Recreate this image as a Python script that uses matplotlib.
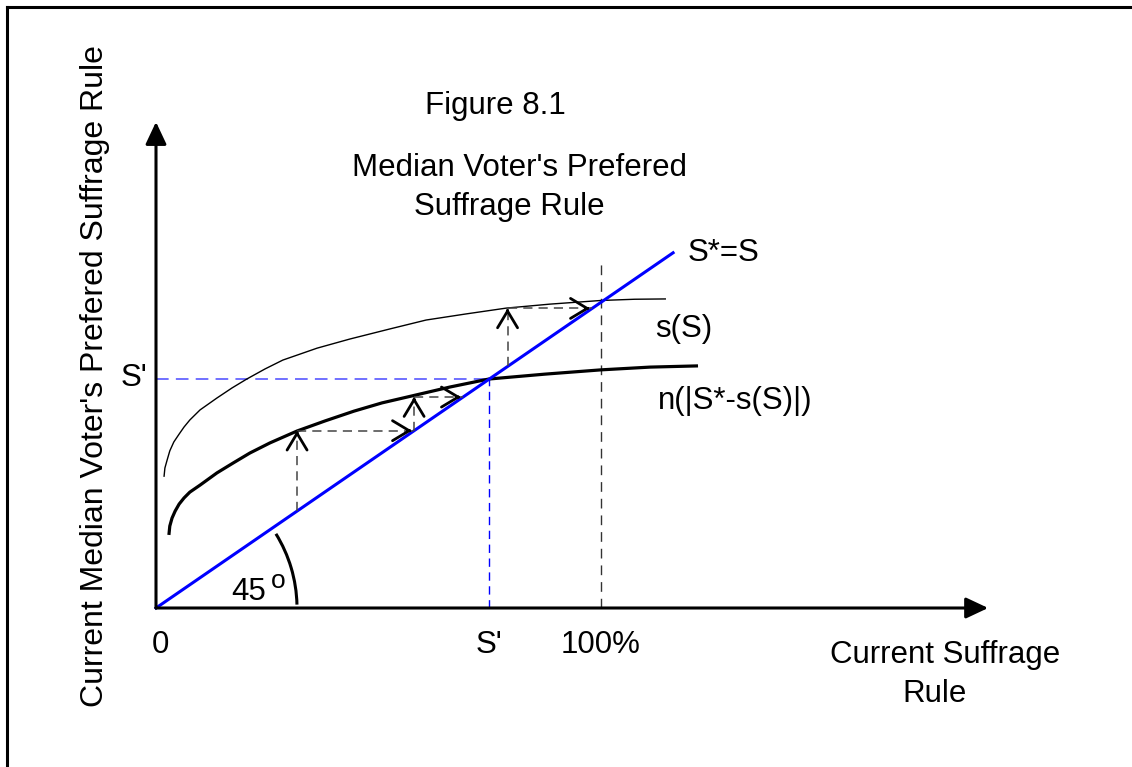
import numpy as np
import matplotlib
matplotlib.use("Agg")
import matplotlib.pyplot as plt
from matplotlib.patches import Arc
from matplotlib.lines import Line2D

plt.rcParams['font.family'] = ['Liberation Sans', 'DejaVu Sans']

# ------------------------------------------------------------------
# values (S as a share, 1.0 = 100%)
# ------------------------------------------------------------------
# thin curve s(S)
s_x = [0.018, 0.020, 0.025, 0.031, 0.040, 0.052, 0.063, 0.076, 0.099, 0.137, 0.171, 0.204,
       0.245, 0.285, 0.362, 0.436, 0.526, 0.607, 0.697, 0.787, 0.885, 1.0, 1.076, 1.146]
s_y = [0.429, 0.458, 0.484, 0.514, 0.543, 0.569, 0.592, 0.615, 0.648, 0.687, 0.720, 0.749,
       0.782, 0.811, 0.850, 0.880, 0.913, 0.942, 0.962, 0.981, 0.994, 1.006, 1.010, 1.011]

# thick curve n(|S*-s(S)|)
n_x = [0.029, 0.031, 0.036, 0.043, 0.052, 0.063, 0.076, 0.099, 0.137, 0.173, 0.211, 0.256,
       0.317, 0.380, 0.445, 0.508, 0.573, 0.661, 0.748, 0.874, 1.0, 1.110, 1.218]
n_y = [0.239, 0.268, 0.294, 0.317, 0.340, 0.360, 0.379, 0.402, 0.442, 0.474, 0.507, 0.540,
       0.579, 0.612, 0.644, 0.671, 0.693, 0.723, 0.749, 0.765, 0.779, 0.788, 0.792]

# 45 degree line S* = S
diag_end = 1.162
s_prime = 0.748
full = 1.0
full_top = 1.129

# cobweb steps: start on the diagonal, go up to the curve, then across to the diagonal
step_x = [0.317, 0.58, 0.79]
step_top = [0.58, 0.69, 0.98]

# axis ends
x_end = 1.87
y_end = 1.59

x_ticks = [0.0, s_prime, full]
x_tick_labels = ["0", "S'", "100%"]

# ------------------------------------------------------------------
# layout: figure in pixels, data mapped so the drawing sits like the original
# ------------------------------------------------------------------
W, H = 1132, 767
ox, oy = 156, 608          # origin in pixels
kx, ky = 445, 305.7        # pixels per unit

fig = plt.figure(figsize=(W / 100, H / 100), dpi=100)
ax = fig.add_axes([0, 0, 1, 1])
ax.set_xlim(-ox / kx, (W - ox) / kx)
ax.set_ylim((oy - H) / ky, oy / ky)
ax.axis('off')

def fx(px):
    return px / W

def fy(py):
    return 1 - py / H

# frame (top and left only, like the cropped original)
fig.add_artist(Line2D([fx(7), 1], [fy(6.5), fy(6.5)], lw=2.2, color='black'))
fig.add_artist(Line2D([fx(7), fx(7)], [fy(6.5), 0], lw=2.2, color='black'))

# axes with filled arrow heads
axis_style = dict(arrowstyle='-|>,head_length=0.68,head_width=0.32', lw=2.2,
                  color='black', mutation_scale=20, shrinkA=0, shrinkB=0)
ax.annotate('', xy=(x_end, 0), xytext=(0, 0), arrowprops=axis_style)
ax.annotate('', xy=(0, y_end), xytext=(0, 0), arrowprops=axis_style)

# dashed guides
ax.plot([0, s_prime], [s_prime, s_prime], color='#6464ff', lw=1.3, dashes=(7, 4))
ax.plot([s_prime, s_prime], [0, s_prime], color='#0000ff', lw=1.0, dashes=(6, 4))
ax.plot([full, full], [0, full_top], color='#333333', lw=1.0, dashes=(7, 5))

# curves
ax.plot(s_x, s_y, color='black', lw=1.0, solid_capstyle='butt', solid_joinstyle='round')
ax.plot(n_x, n_y, color='black', lw=2.3, solid_capstyle='butt', solid_joinstyle='round')
ax.plot([0, diag_end], [0, diag_end], color='#0000ff', lw=2.2)

# cobweb arrows
head = dict(arrowstyle='->,head_length=0.6,head_width=0.36', lw=2.0,
            color='black', mutation_scale=20, shrinkA=0, shrinkB=0)
for x0, top in zip(step_x, step_top):
    ax.plot([x0, x0], [x0, top], color='#444444', lw=1.1, dashes=(6, 4))
    ax.plot([x0, top], [top, top], color='#444444', lw=1.1, dashes=(6, 4))
    ax.annotate('', xy=(x0, top), xytext=(x0, top - 0.01), arrowprops=head)
    ax.annotate('', xy=(top - 0.005, top), xytext=(top - 0.015, top), arrowprops=head)

# 45 degree arc
ax.add_patch(Arc((0, 0), 2 * 141 / kx, 2 * 141 / ky, theta1=2, theta2=42,
                 lw=2.2, color='black'))

# texts
fs = 22.5
fig.text(fx(95), fy(376), "Current Median Voter's Prefered Suffrage Rule",
         rotation=90, ha='center', va='center', fontsize=23)
fig.text(fx(495), fy(106), "Figure 8.1", ha='center', va='center', fontsize=fs)
fig.text(fx(520), fy(168), "Median Voter's Prefered", ha='center', va='center', fontsize=fs)
fig.text(fx(509), fy(207), "Suffrage Rule", ha='center', va='center', fontsize=fs)
fig.text(fx(688), fy(253), "S*=S", ha='left', va='center', fontsize=fs)
fig.text(fx(655), fy(329), "s(S)", ha='left', va='center', fontsize=fs)
fig.text(fx(658), fy(401), "n(|S*-s(S)|)", ha='left', va='center', fontsize=fs)
fig.text(fx(134), fy(378), "S'", ha='center', va='center', fontsize=fs)
for xv, lab in zip(x_ticks, x_tick_labels):
    fig.text(fx(ox + xv * kx + (4 if lab == "0" else 0)), fy(645), lab,
             ha='center', va='center', fontsize=fs)
fig.text(fx(945), fy(655), "Current Suffrage", ha='center', va='center', fontsize=fs)
fig.text(fx(935), fy(694), "Rule", ha='center', va='center', fontsize=fs)
fig.text(fx(231), fy(600), "45", ha='left', va='baseline', fontsize=fs)
fig.text(fx(271), fy(588), "o", ha='left', va='baseline', fontsize=19)

fig.savefig("out.png", dpi=100)
